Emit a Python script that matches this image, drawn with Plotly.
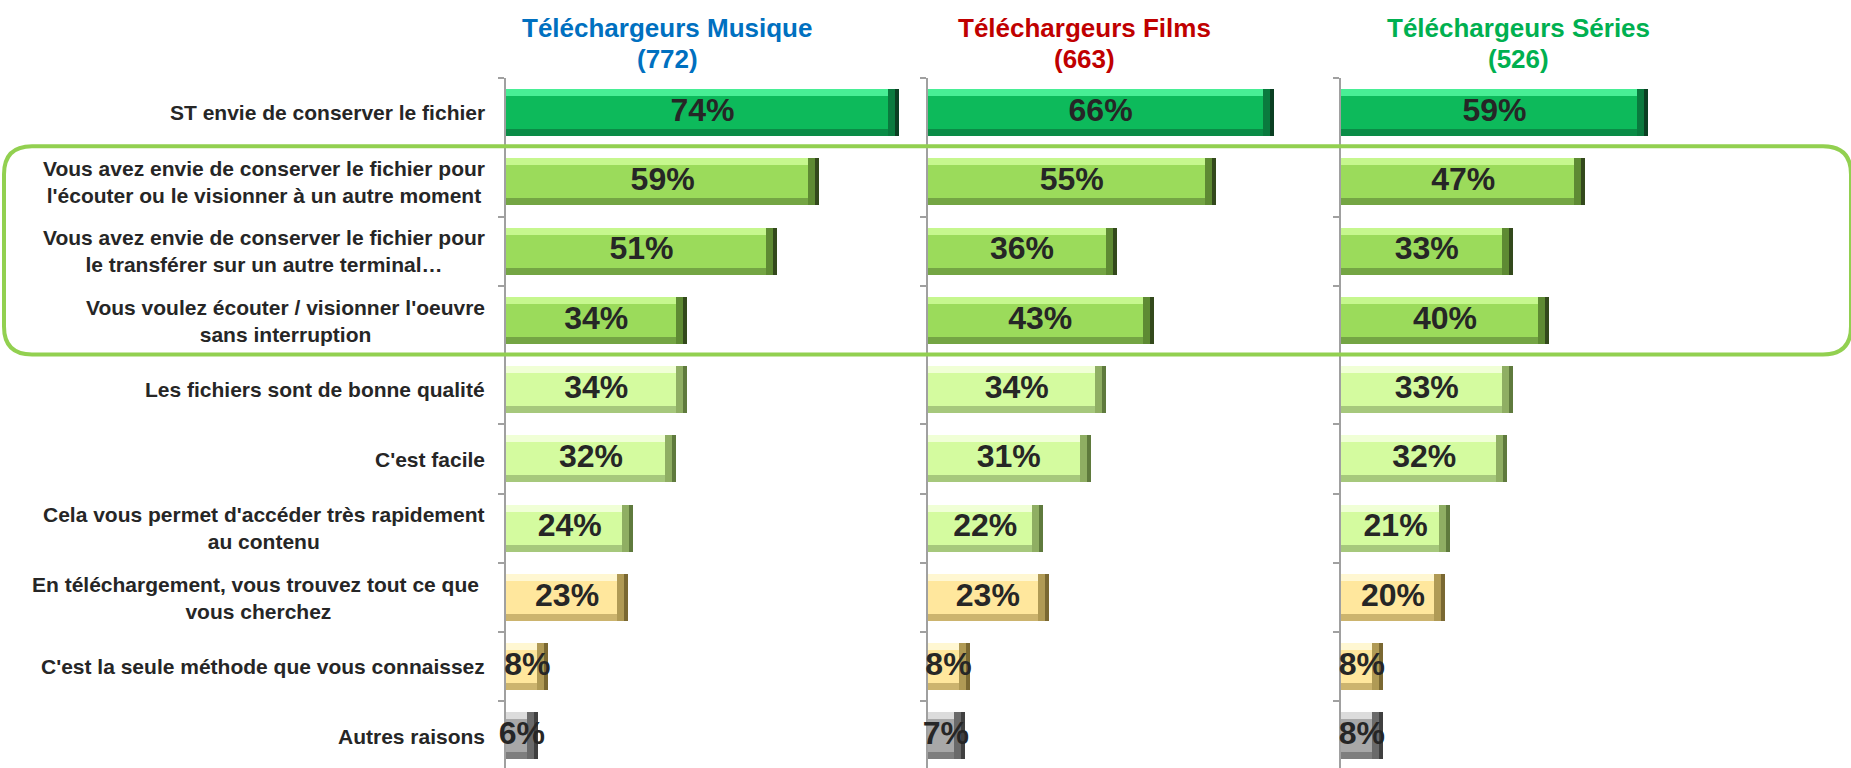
import plotly.graph_objects as go

# ---- data -------------------------------------------------------------
categories = [
    "ST envie de conserver le fichier",
    "Vous avez envie de conserver le fichier pour<br>l'écouter ou le visionner à un autre moment",
    "Vous avez envie de conserver le fichier pour<br>le transférer sur un autre terminal…",
    "Vous voulez écouter / visionner l'oeuvre<br>sans interruption",
    "Les fichiers sont de bonne qualité",
    "C'est facile",
    "Cela vous permet d'accéder très rapidement<br>au contenu",
    "En téléchargement, vous trouvez tout ce que\u00a0<br>vous cherchez",
    "C'est la seule méthode que vous connaissez",
    "Autres raisons",
]
musique = [74, 59, 51, 34, 34, 32, 24, 23, 8, 6]
films = [66, 55, 36, 43, 34, 31, 22, 23, 8, 7]
series = [59, 47, 33, 40, 33, 32, 21, 20, 8, 8]

panel_titles = ["Téléchargeurs Musique", "Téléchargeurs Films", "Téléchargeurs Séries"]
panel_bases = ["(772)", "(663)", "(526)"]
title_colors = ["#0070C0", "#C00000", "#00B050"]

# colour family of each row
row_group = ["dark", "mid", "mid", "mid", "light", "light", "light",
             "yellow", "yellow", "grey"]

# ---- styling ----------------------------------------------------------
W, H = 1851, 768
FONT = "Liberation Sans, Arial, Helvetica, sans-serif"
TEXT = "#262626"
AXIS_GREY = "#a0a0a0"

palette = {
    "dark":   dict(face="#0DBA5B", top="#48EE95", bottom="#0A8C46",
                   endmid="#0A7A3E", end="#0A3F22"),
    "mid":    dict(face="#9BDB5B", top="#C6F78E", bottom="#74A544",
                   endmid="#5E8A33", end="#33491C"),
    "light":  dict(face="#D4FB9F", top="#F0FFD6", bottom="#A6C87C",
                   endmid="#8FAE63", end="#5F7A3D"),
    "yellow": dict(face="#FFE79D", top="#FFF7D2", bottom="#CCB46E",
                   endmid="#B09A55", end="#7A6832"),
    "grey":   dict(face="#A8A8A8", top="#DCDCDC", bottom="#7E7E7E",
                   endmid="#6A6A6A", end="#404040"),
}

plot_top_px = 78.2
row_px = 69.25
n_rows = len(categories)
y_bottom = -0.5 + (H - plot_top_px) / row_px   # rows run past the lower edge
y_range = [y_bottom, -0.5]

x_max = 75
panels = [
    dict(vals=musique, x0=506.0, px_per_unit=5.31),
    dict(vals=films, x0=927.5, px_per_unit=5.245),
    dict(vals=series, x0=1341.0, px_per_unit=5.20),
]

bar_w = 0.68                 # bar thickness in row units
band = 7 / row_px            # bevel band height in row units
end_px = 11                  # bevel at the bar's right end, px
edge_px = 4                  # darkest strip at the very end, px

rows = list(range(n_rows))
fig = go.Figure()

for k, p in enumerate(panels):
    xa = "x" if k == 0 else f"x{k + 1}"
    ya = "y" if k == 0 else f"y{k + 1}"
    vals = p["vals"]
    d_end = end_px / p["px_per_unit"]
    d_edge = edge_px / p["px_per_unit"]
    inner = [v - d_end for v in vals]
    near = [v - d_edge for v in vals]
    cols = [palette[g] for g in row_group]

    layers = [
        (vals, "end", -bar_w / 2, bar_w),
        (near, "endmid", -bar_w / 2, bar_w),
        (inner, "bottom", -bar_w / 2, bar_w),
        (inner, "top", -bar_w / 2, bar_w - band),
        (inner, "face", -bar_w / 2 + band, bar_w - 2 * band),
    ]
    for xs, key, off, wid in layers:
        fig.add_trace(go.Bar(
            x=xs, y=rows, orientation="h",
            marker=dict(color=[c[key] for c in cols], line=dict(width=0)),
            width=wid, offset=off,
            xaxis=xa, yaxis=ya, hoverinfo="skip", showlegend=False,
        ))

    fig.add_trace(go.Scatter(
        x=[v / 2 for v in vals], y=rows, mode="text",
        text=[f"{v}%" for v in vals],
        textposition="middle center",
        textfont=dict(family=FONT, size=32, color=TEXT, weight="bold"),
        cliponaxis=False, xaxis=xa, yaxis=ya,
        hoverinfo="skip", showlegend=False,
    ))

    d0 = p["x0"] / W
    d1 = (p["x0"] + x_max * p["px_per_unit"]) / W
    xkey = "xaxis" if k == 0 else f"xaxis{k + 1}"
    ykey = "yaxis" if k == 0 else f"yaxis{k + 1}"
    fig.layout[xkey] = dict(
        domain=[d0, d1], range=[0, x_max], visible=False,
        anchor=ya, fixedrange=True,
    )
    fig.layout[ykey] = dict(
        domain=[0, 1 - plot_top_px / H], range=y_range, anchor=xa,
        tickmode="array", tickvals=[r - 0.5 for r in range(n_rows + 1)],
        showticklabels=False, ticks="outside", ticklen=6, tickwidth=2,
        tickcolor=AXIS_GREY, showline=True, linecolor=AXIS_GREY,
        linewidth=1.5, showgrid=False, zeroline=False, fixedrange=True,
        layer="below traces",
    )

# ---- category labels --------------------------------------------------
annotations = []
for i, lab in enumerate(categories):
    annotations.append(dict(
        text=lab, xref="paper", yref="y", x=487 / W, y=i,
        xanchor="right", yanchor="middle", align="center", showarrow=False,
        font=dict(family=FONT, size=21, color=TEXT, weight="bold"),
    ))

# ---- panel titles -----------------------------------------------------
title_cx = [667, 1084, 1518]
for t, b, c, cx in zip(panel_titles, panel_bases, title_colors, title_cx):
    for txt, py in ((t, 28), (b, 59)):
        annotations.append(dict(
            text=txt, xref="paper", yref="paper", x=cx / W, y=1 - py / H,
            xanchor="center", yanchor="middle", showarrow=False,
            font=dict(family=FONT, size=26, color=c, weight="bold"),
        ))

# ---- rounded frame around the three "conserver / écouter" rows -------
fx0, fx1 = 4 / W, 1851 / W
fyt, fyb = 1 - 146.3 / H, 1 - 354.5 / H
rx, ry = 28 / W, 28 / H
frame = (
    f"M {fx0 + rx},{fyt} L {fx1 - rx},{fyt} Q {fx1},{fyt} {fx1},{fyt - ry} "
    f"L {fx1},{fyb + ry} Q {fx1},{fyb} {fx1 - rx},{fyb} "
    f"L {fx0 + rx},{fyb} Q {fx0},{fyb} {fx0},{fyb + ry} "
    f"L {fx0},{fyt - ry} Q {fx0},{fyt} {fx0 + rx},{fyt} Z"
)

fig.update_layout(
    width=W, height=H,
    margin=dict(l=0, r=0, t=0, b=0),
    paper_bgcolor="white", plot_bgcolor="white",
    barmode="overlay", bargap=0,
    annotations=annotations,
    shapes=[dict(type="path", path=frame, xref="paper", yref="paper",
                 line=dict(color="#92D050", width=4), layer="above")],
    showlegend=False,
)

fig.write_html("out.html")
